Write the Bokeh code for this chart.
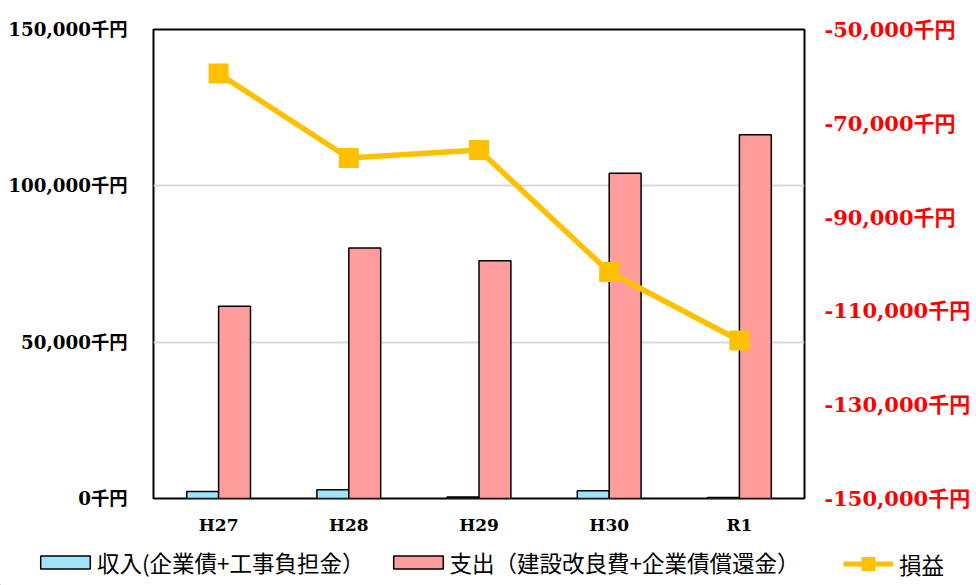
from bokeh.plotting import figure
from bokeh.layouts import column
from bokeh.models import (Range1d, LinearAxis, FactorRange, Legend, LegendItem,
                          FixedTicker, CustomJSTickFormatter, Plot)
from bokeh.transform import dodge
from bokeh.embed import file_html
from bokeh.resources import INLINE

# 年度別 収入・支出・損益（千円）
years = ["H27", "H28", "H29", "H30", "R1"]
income = [2200, 2800, 500, 2500, 300]              # 収入(企業債+工事負担金)
expense = [61500, 80100, 76000, 104000, 116300]    # 支出（建設改良費+企業債償還金）
profit = [-59400, -77400, -75700, -101700, -116300]  # 損益

left_ticks = [0, 50000, 100000, 150000]
right_ticks = [-150000, -130000, -110000, -90000, -70000, -50000]

NUM_FONT = "DejaVu Serif, Noto Sans CJK JP"
JP_FONT = "Noto Sans CJK JP"

BLUE = "#A0E4F8"
PINK = "#FF9C9C"
GOLD = "#FFC000"

p = figure(width=976, height=545, x_range=FactorRange(*years, range_padding=0),
           y_range=Range1d(0, 150000), output_backend="svg", toolbar_location=None,
           min_border_left=153, min_border_right=172, min_border_top=29,
           min_border_bottom=47)
p.extra_y_ranges = {"right": Range1d(-150000, -50000)}

fmt = CustomJSTickFormatter(code="return Math.round(tick).toLocaleString('en-US') + '千円';")

# left axis
ya = p.yaxis[0]
ya.ticker = FixedTicker(ticks=left_ticks)
ya.formatter = fmt
ya.axis_line_color = None
ya.major_tick_line_color = None
ya.minor_tick_line_color = None
ya.major_label_standoff = 20
ya.major_label_text_font = NUM_FONT
ya.major_label_text_font_style = "bold"
ya.major_label_text_font_size = "18.3px"
ya.major_label_text_color = "black"

# right axis (損益)
ra = LinearAxis(y_range_name="right", ticker=FixedTicker(ticks=right_ticks), formatter=fmt)
ra.axis_line_color = None
ra.major_tick_line_color = None
ra.minor_tick_line_color = None
ra.major_label_standoff = 14
ra.major_label_text_font = NUM_FONT
ra.major_label_text_font_style = "bold"
ra.major_label_text_font_size = "21px"
ra.major_label_text_color = "#FF0000"
p.add_layout(ra, "right")

# category axis
xa = p.xaxis[0]
xa.axis_line_color = None
xa.major_tick_line_color = None
xa.minor_tick_line_color = None
xa.major_label_standoff = 10
xa.major_label_text_font = NUM_FONT
xa.major_label_text_font_style = "bold"
xa.major_label_text_font_size = "17px"
xa.major_label_text_color = "black"

p.xgrid.grid_line_color = None
p.ygrid.ticker = FixedTicker(ticks=left_ticks)
p.ygrid.grid_line_color = "#D9D9D9"
p.ygrid.grid_line_width = 2

p.outline_line_color = "black"
p.outline_line_width = 2
p.background_fill_color = "white"
p.border_fill_color = "white"

src = dict(years=years, income=income, expense=expense)
bw = 0.245
p.vbar(x=dodge("years", -bw / 2, range=p.x_range), top="income", width=bw,
       source=src, fill_color=BLUE, line_color="black", line_width=1.5)
p.vbar(x=dodge("years", bw / 2, range=p.x_range), top="expense", width=bw,
       source=src, fill_color=PINK, line_color="black", line_width=1.5)

psrc = dict(years=years, profit=profit)
p.line(x="years", y="profit", source=psrc, y_range_name="right",
       line_color=GOLD, line_width=5.5)
p.scatter(x="years", y="profit", source=psrc, y_range_name="right",
          marker="square", size=20, fill_color=GOLD, line_color=None)

# legend strip under the chart; its keys sit outside the visible range
lg = figure(width=976, height=40, x_range=Range1d(0, 1), y_range=Range1d(0, 1),
            output_backend="svg", toolbar_location=None, x_axis_type=None,
            y_axis_type=None, min_border_left=0, min_border_right=0,
            min_border_top=0, min_border_bottom=0)
lg.outline_line_color = None
lg.grid.visible = False
lg.background_fill_color = "white"
lg.border_fill_color = "white"
key = dict(x=[-10.0], y=[-10.0])
k_inc = lg.vbar(x="x", top="y", width=1, source=key,
                fill_color=BLUE, line_color="black", line_width=1.5)
k_exp = lg.vbar(x="x", top="y", width=1, source=key,
                fill_color=PINK, line_color="black", line_width=1.5)
k_line = lg.line(x="x", y="y", source=key, line_color=GOLD, line_width=5)
k_mark = lg.scatter(x="x", y="y", source=key, marker="square", size=14,
                    fill_color=GOLD, line_color=None)


def style_legend(lgd, glyph_w, glyph_h, standoff):
    lgd.label_text_font = JP_FONT
    lgd.label_text_font_size = "22.5px"
    lgd.label_text_color = "black"
    lgd.glyph_width = glyph_w
    lgd.glyph_height = glyph_h
    lgd.label_standoff = standoff
    lgd.spacing = 22
    lgd.padding = 0
    lgd.margin = 0
    lgd.border_line_color = None
    lgd.background_fill_alpha = 0


# bar keys
legend_bars = Legend(items=[
    LegendItem(label="収入(企業債+工事負担金）", renderers=[k_inc]),
    LegendItem(label="支出（建設改良費+企業債償還金）", renderers=[k_exp]),
], orientation="horizontal", location=(34, 7))
style_legend(legend_bars, 62, 16, 1)
lg.add_layout(legend_bars, "center")

# line key (taller box so the square marker shows on the line)
legend_line = Legend(items=[
    LegendItem(label="損益", renderers=[k_line, k_mark]),
], orientation="horizontal", location=(843, 4))
style_legend(legend_line, 50, 35, 6)
lg.add_layout(legend_line, "center")

# keep the strip's frame independent of the chart's frame
if "frame_align" in Plot.properties():
    p.frame_align = False
    lg.frame_align = False
    layout = column(p, lg, spacing=0)
else:
    layout = column(p, column(lg), spacing=0)

open("out.html", "w").write(file_html(layout, INLINE))
